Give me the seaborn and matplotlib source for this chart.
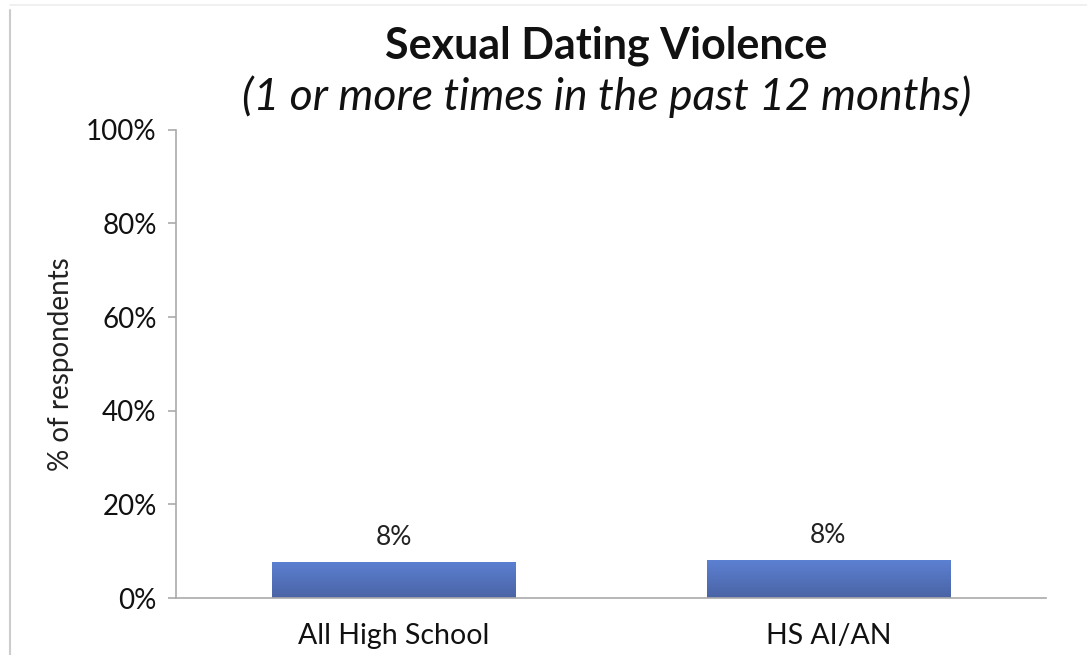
import matplotlib
matplotlib.use("Agg")
import matplotlib.pyplot as plt
import seaborn as sns
import numpy as np
import pandas as pd
from matplotlib.ticker import PercentFormatter, FixedLocator
from matplotlib.colors import LinearSegmentedColormap
from matplotlib.lines import Line2D

# data
groups = ["All High School", "HS AI/AN"]
pct = [7.7, 8.1]
bar_labels = ["8%", "8%"]

df = pd.DataFrame({"group": groups, "pct": pct})

sns.set_theme(style="white")
plt.rcParams["font.family"] = ["Lato", "DejaVu Sans"]

fig = plt.figure(figsize=(10.87, 6.55), dpi=100)
ax = fig.add_axes([0.162, 0.087, 0.800, 0.715])

sns.barplot(data=df, x="group", y="pct", color="#5474C0", width=0.56,
            saturation=1, ax=ax)

# vertical gradient fill like the original (lighter on top)
grad = LinearSegmentedColormap.from_list("bar", ["#4A64A5", "#5C80D2"])
for p in ax.patches:
    x0, w, h = p.get_x(), p.get_width(), p.get_height()
    im = ax.imshow(np.linspace(0, 1, 50).reshape(-1, 1), cmap=grad,
                   origin="lower", aspect="auto",
                   extent=[x0, x0 + w, 0, h], zorder=p.get_zorder())
    im.set_clip_path(p)

for p, lab in zip(ax.patches, bar_labels):
    ax.text(p.get_x() + p.get_width() / 2, p.get_height() + 2.6, lab,
            ha="center", va="bottom", fontsize=19, color="#222222")

ax.set_ylim(0, 100)
ax.set_xlim(-0.5, 1.5)
ax.set_yticks(range(0, 101, 20))
ax.yaxis.set_major_formatter(PercentFormatter(decimals=0))
ax.xaxis.set_minor_locator(FixedLocator([-0.5, 0.5, 1.5]))
ax.tick_params(axis="x", which="major", length=0, labelsize=20.5, pad=18,
               labelcolor="#111111")
ax.tick_params(axis="x", which="minor", length=7, width=1.2, color="#aaaaaa",
               direction="out")
ax.tick_params(axis="y", length=6, width=1.2, color="#aaaaaa", direction="out",
               labelsize=20, labelcolor="#111111", left=True, pad=8)
ax.set_xlabel("")
ax.set_ylabel("% of respondents", fontsize=20, color="#222222", labelpad=9)

for s in ["top", "right"]:
    ax.spines[s].set_visible(False)
for s in ["left", "bottom"]:
    ax.spines[s].set_color("#aaaaaa")
    ax.spines[s].set_linewidth(1.2)

fig.text(0.558, 0.93, "Sexual Dating Violence", ha="center", va="center",
         fontsize=31, fontweight="bold", color="#111111")
fig.text(0.558, 0.852, "(1 or more times in the past 12 months)", ha="center",
         va="center", fontsize=32, fontstyle="italic", color="#111111")

# faint frame of the original slide box
fig.add_artist(Line2D([0.0095, 0.0095], [0.0, 0.985], color="#cccccc", lw=1.5))
fig.add_artist(Line2D([0.0095, 1.0], [0.992, 0.992], color="#eeeeee", lw=1.2))

fig.savefig("out.png", dpi=100)
